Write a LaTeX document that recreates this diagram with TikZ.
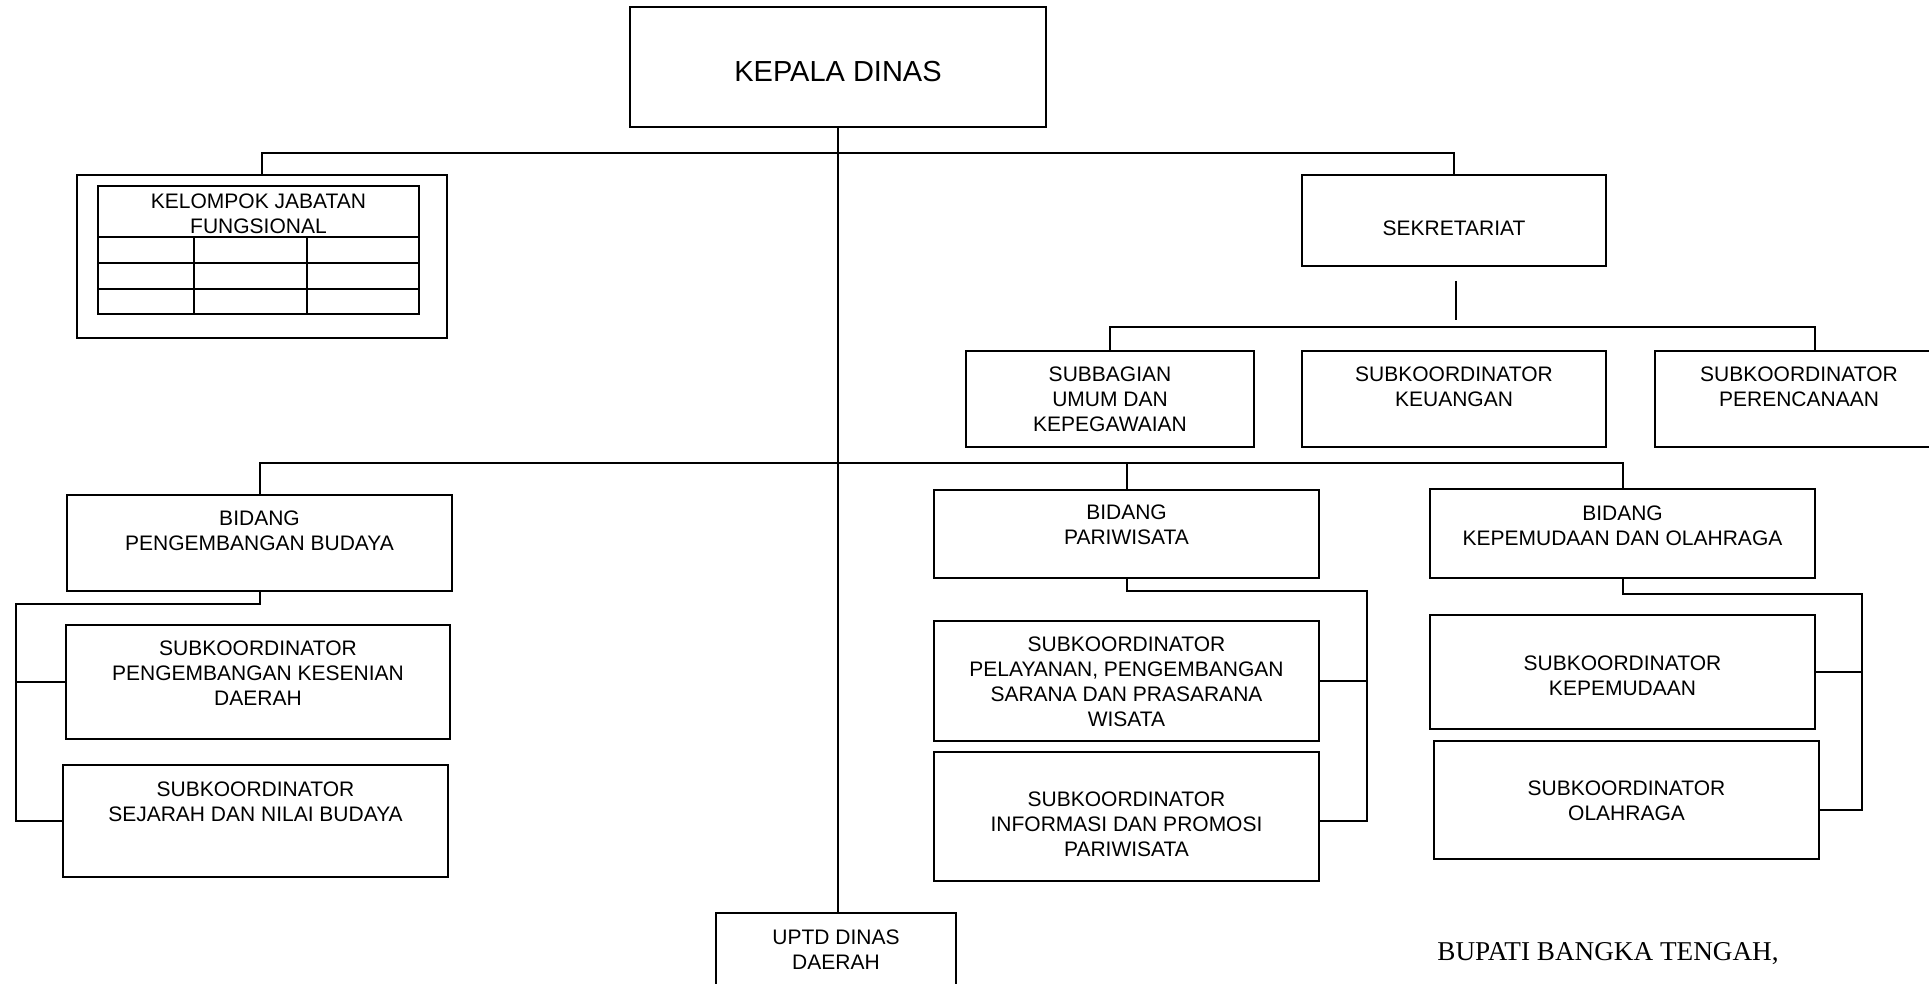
\documentclass[tikz,border=0pt]{standalone}
\usepackage{fontspec}
\setmainfont{Liberation Sans}
\newfontfamily\ttdfont{Liberation Serif}

\tikzset{
  unit/.style={rectangle, draw=black, line width=1pt, fill=white},
  txt/.style={align=center, anchor=north, font=\fontsize{10.5}{12.5}\selectfont},
  link/.style={line width=1pt, color=black},
}

\begin{document}
\begin{tikzpicture}
[x=0.5pt, y=-0.5pt, every node/.style={inner sep=0pt}]
\useasboundingbox (0,0) rectangle (1929,984);
\clip (0,0) rectangle (1929,984);
% boxes
\node (kadis) [unit, minimum width=208pt, minimum height=60pt] at (838, 67) {};
\node (jf) [unit, minimum width=185pt, minimum height=81.5pt] at (262, 256.5) {};
\node (jftab) [unit, minimum width=160.5pt, minimum height=64pt] at (258.5, 250) {};
\node (sekre) [unit, minimum width=152pt, minimum height=45.5pt] at (1454, 220.5) {};
\node (umum) [unit, minimum width=144pt, minimum height=48pt] at (1110, 399) {};
\node (keu) [unit, minimum width=152pt, minimum height=48pt] at (1454, 399) {};
\node (renc) [unit, minimum width=146pt, minimum height=48pt] at (1801, 399) {};
\node (budaya) [unit, minimum width=192.5pt, minimum height=48pt] at (259.5, 543) {};
\node (seni) [unit, minimum width=192pt, minimum height=57pt] at (258, 682) {};
\node (sejarah) [unit, minimum width=192.5pt, minimum height=56pt] at (255.5, 821) {};
\node (wisata) [unit, minimum width=192.5pt, minimum height=44pt] at (1126.5, 534) {};
\node (sarpras) [unit, minimum width=192.5pt, minimum height=60pt] at (1126.5, 681) {};
\node (promosi) [unit, minimum width=192.5pt, minimum height=64.5pt] at (1126.5, 816.5) {};
\node (pora) [unit, minimum width=192.5pt, minimum height=44.5pt] at (1622.5, 533.5) {};
\node (pemuda) [unit, minimum width=192.5pt, minimum height=57pt] at (1622.5, 672) {};
\node (olahraga) [unit, minimum width=192.5pt, minimum height=59pt] at (1626.5, 800) {};
\node (uptd) [unit, minimum width=120pt, minimum height=50pt] at (836, 963) {};
% table grid
\draw [link] (98, 237) -- (419, 237);
\draw [link] (98, 263) -- (419, 263);
\draw [link] (98, 289) -- (419, 289);
\draw [link] (194, 237) -- (194, 314);
\draw [link] (307, 237) -- (307, 314);
% texts
\node (kadis-t) [anchor=base, font=\fontsize{14.5}{17}\selectfont] at (838, 82) {KEPALA DINAS};
\node (jf-t) [txt] at (258.5, 193) {KELOMPOK JABATAN\\FUNGSIONAL};
\node (sekre-t) [txt] at (1454, 220) {SEKRETARIAT};
\node (umum-t) [txt] at (1110, 366) {SUBBAGIAN\\UMUM DAN\\KEPEGAWAIAN};
\node (keu-t) [txt] at (1454, 366) {SUBKOORDINATOR\\KEUANGAN};
\node (renc-t) [txt] at (1799, 366) {SUBKOORDINATOR\\PERENCANAAN};
\node (budaya-t) [txt] at (259.5, 510) {BIDANG\\PENGEMBANGAN BUDAYA};
\node (seni-t) [txt] at (258, 640) {SUBKOORDINATOR\\PENGEMBANGAN KESENIAN\\DAERAH};
\node (sejarah-t) [txt] at (255.5, 781) {SUBKOORDINATOR\\SEJARAH DAN NILAI BUDAYA};
\node (wisata-t) [txt] at (1126.5, 504) {BIDANG\\PARIWISATA};
\node (sarpras-t) [txt] at (1126.5, 636) {SUBKOORDINATOR\\PELAYANAN, PENGEMBANGAN\\SARANA DAN PRASARANA\\WISATA};
\node (promosi-t) [txt] at (1126.5, 791) {SUBKOORDINATOR\\INFORMASI DAN PROMOSI\\PARIWISATA};
\node (pora-t) [txt] at (1622.5, 505) {BIDANG\\KEPEMUDAAN DAN OLAHRAGA};
\node (pemuda-t) [txt] at (1622.5, 655) {SUBKOORDINATOR\\KEPEMUDAAN};
\node (olahraga-t) [txt] at (1626.5, 780) {SUBKOORDINATOR\\OLAHRAGA};
\node (uptd-t) [txt] at (836, 929) {UPTD DINAS\\DAERAH};
\node (ttd) [anchor=base west, font=\ttdfont\fontsize{13.6}{16}\selectfont] at (1437, 960) {BUPATI BANGKA TENGAH,};
% connectors
\coordinate (bar1) at (838, 153);
\coordinate (bar2) at (1454, 327);
\coordinate (bar3) at (838, 463);
\coordinate (sekstub) at (1456, 281);
\coordinate (budrail) at (16, 604);
\coordinate (wisrail) at (1367, 591);
\coordinate (porarail) at (1862, 594);
\draw [link] (kadis.south) -- (kadis.south |- uptd.north);
\draw [link] (jf.north) |- (bar1) -| (sekre.north);
\draw [link] (sekstub) -- ++(0, 39);
\draw [link] (umum.north) |- (bar2) -| ([xshift=7pt]renc.north);
\draw [link] (budaya.north) |- (bar3) -| (pora.north);
\draw [link] (wisata.north) -- (wisata.north |- bar3);
\draw [link] (budaya.south) |- (budrail) |- (sejarah.west);
\draw [link] (budrail |- seni.west) -- (seni.west);
\draw [link] (wisata.south) |- (wisrail) |- ([yshift=-2pt]promosi.east);
\draw [link] (wisrail |- sarpras.east) -- (sarpras.east);
\draw [link] (pora.south) |- (porarail) |- ([yshift=-5pt]olahraga.east);
\draw [link] (porarail |- pemuda.east) -- (pemuda.east);
\end{tikzpicture}
\end{document}
